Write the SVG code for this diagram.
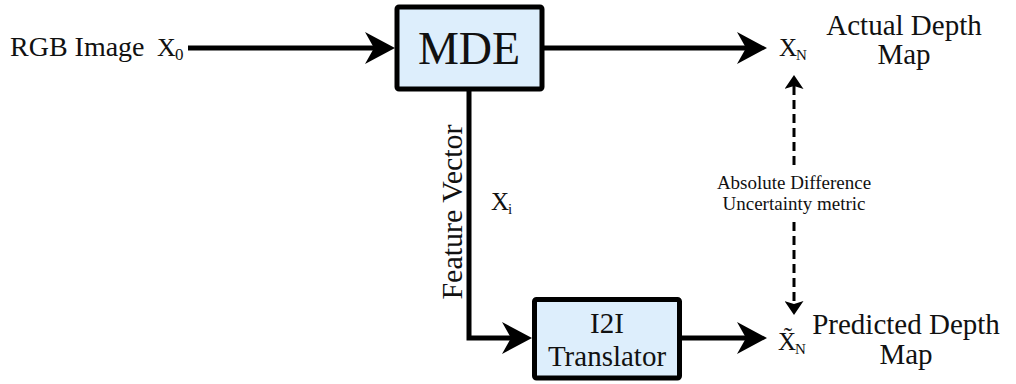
<svg xmlns="http://www.w3.org/2000/svg" width="1016" height="384" viewBox="0 0 1016 384">
<defs>
<style>
.t{font-family:"Liberation Serif","Times New Roman",serif;fill:#111}
.box{fill:#ddeefc;stroke:#000;stroke-width:5}
.ln{fill:none;stroke:#000;stroke-width:5}
.dl{fill:none;stroke:#000;stroke-width:3;stroke-dasharray:9 5}
</style>
<marker id="ah" markerUnits="userSpaceOnUse" markerWidth="30" markerHeight="32" viewBox="0 0 30 32" refX="9" refY="16" orient="auto">
<path d="M0,0 L30,16 L0,32 L9,16 z" fill="#000"/>
</marker>
<marker id="sh" markerUnits="userSpaceOnUse" markerWidth="14" markerHeight="19" viewBox="0 0 14 19" refX="3" refY="9.5" orient="auto">
<path d="M0,0 L14,9.5 L0,19 L3,9.5 z" fill="#000"/>
</marker>
</defs>
<rect width="1016" height="384" fill="#fff"/>
<g id="connectors">
<path class="ln" d="M188,48 H374" marker-end="url(#ah)"/>
<path class="ln" d="M543,48 H746" marker-end="url(#ah)"/>
<path class="ln" d="M469,90 V338 H511" marker-end="url(#ah)"/>
<path class="ln" d="M682,338 H746" marker-end="url(#ah)"/>
<path class="dl" d="M794,165 V86" marker-end="url(#sh)"/>
<path class="dl" d="M794,222 V304" marker-end="url(#sh)"/>
</g>
<g id="input">
<text class="t" x="10" y="56" font-size="28">RGB Image</text>
<text class="t" x="157" y="56" font-size="26">X</text>
<text class="t" x="175" y="60" font-size="17">0</text>
</g>
<g id="mde">
<rect class="box" x="397" y="7" width="145" height="82" rx="2"/>
<text class="t" x="469" y="64" font-size="46" text-anchor="middle">MDE</text>
</g>
<g id="i2i">
<rect class="box" x="534.5" y="299.5" width="145" height="78.5" rx="2"/>
<text class="t" x="607" y="333" font-size="29" text-anchor="middle">I2I</text>
<text class="t" x="607" y="366" font-size="29" text-anchor="middle">Translator</text>
</g>
<g id="actual">
<text class="t" x="779" y="56" font-size="25">X</text>
<text class="t" x="796" y="60" font-size="15">N</text>
<text class="t" x="904" y="35" font-size="29" text-anchor="middle">Actual Depth</text>
<text class="t" x="904" y="64" font-size="29" text-anchor="middle">Map</text>
</g>
<g id="predicted">
<text class="t" x="778" y="350" font-size="25">X&#x303;</text>
<text class="t" x="795" y="354" font-size="15">N</text>
<text class="t" x="906" y="334" font-size="29" text-anchor="middle">Predicted Depth</text>
<text class="t" x="906" y="364" font-size="29" text-anchor="middle">Map</text>
</g>
<g id="labels">
<text class="t" transform="translate(462,212) rotate(-90)" font-size="30" text-anchor="middle">Feature Vector</text>
<text class="t" x="491" y="210" font-size="25">X</text>
<text class="t" x="508" y="214" font-size="15">i</text>
<text class="t" x="794" y="189" font-size="19" text-anchor="middle">Absolute Difference</text>
<text class="t" x="794" y="210" font-size="19" text-anchor="middle">Uncertainty metric</text>
</g>
</svg>
